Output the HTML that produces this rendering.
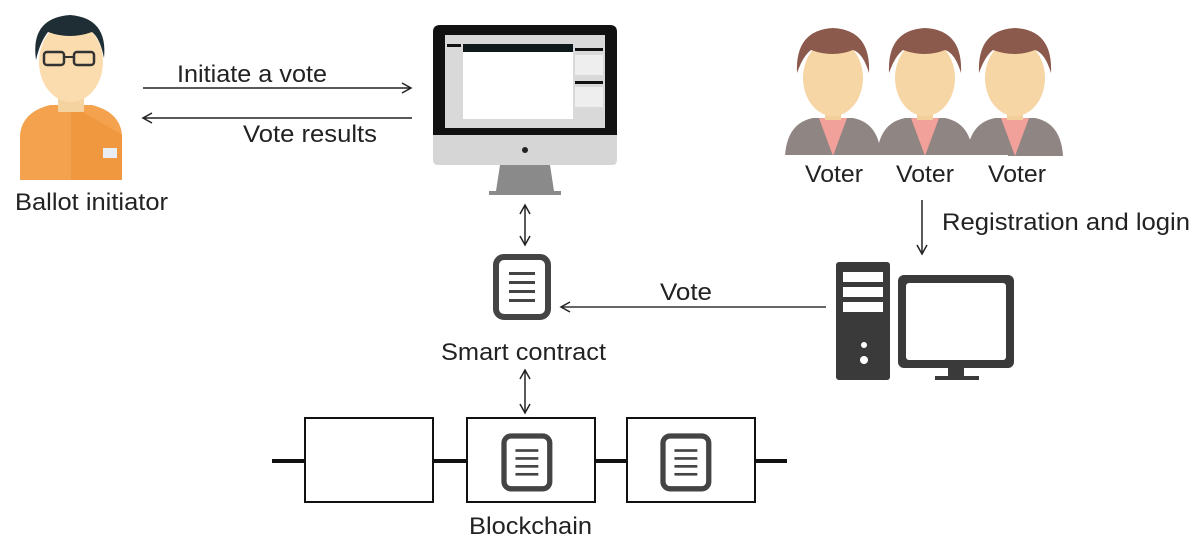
<!DOCTYPE html>
<html><head><meta charset="utf-8"><style>
html,body{margin:0;padding:0;background:#fff;}
svg{display:block;}
text{font-family:"Liberation Sans",Arial,sans-serif;fill:#222;}
</style></head><body>
<svg width="1200" height="547" viewBox="0 0 1200 547" xmlns="http://www.w3.org/2000/svg">
<defs>
<marker id="ah" markerWidth="12" markerHeight="12" refX="10" refY="6" orient="auto-start-reverse" markerUnits="userSpaceOnUse">
<path d="M1,1 L10,6 L1,11" fill="none" stroke="#222" stroke-width="1.5"/>
</marker>
<g id="voter">
<path d="M-48,128 Q-46,95 -20,90 L20,90 Q46,95 48,128 Z" fill="#8f8583"/>
<path d="M-14,90 L0,128 L14,90 Z" fill="#f2a09a"/>
<rect x="-8" y="72" width="16" height="20" fill="#f3cf9c"/>
<ellipse cx="0" cy="50" rx="30" ry="38" fill="#f7d6a6"/>
<path d="M-36,45 Q-38,2 0,0 Q38,2 36,45 Q30,25 20,22 Q0,30 -22,22 Q-30,28 -36,45 Z" fill="#8c5a4c"/>
</g>
<g id="doc">
<rect x="0" y="0" width="52" height="60" rx="8" fill="#fff" stroke="#444" stroke-width="6"/>
<rect x="13" y="15" width="26" height="3" fill="#444"/>
<rect x="13" y="24" width="26" height="3" fill="#444"/>
<rect x="13" y="33" width="26" height="3" fill="#444"/>
<rect x="13" y="42" width="26" height="3" fill="#444"/>
</g>
</defs>

<!-- Ballot initiator -->
<path d="M20,180 L20,135 Q22,112 50,105 L92,105 Q120,112 122,135 L122,180 Z" fill="#f4a24e"/>
<path d="M71,105 L122,135 L122,180 L71,180 Z" fill="#ef9840"/>
<rect x="58" y="90" width="26" height="22" fill="#f5d3a0"/>
<ellipse cx="71" cy="62" rx="32" ry="40" fill="#fbdcae"/>
<path d="M36,60 Q30,18 70,15 Q108,18 104,58 Q100,38 92,32 Q70,40 48,32 Q40,42 36,60 Z" fill="#1f2d35"/>
<rect x="44" y="52" width="20" height="13" rx="3" fill="none" stroke="#333" stroke-width="2.5"/>
<rect x="74" y="52" width="20" height="13" rx="3" fill="none" stroke="#333" stroke-width="2.5"/>
<line x1="64" y1="57" x2="74" y2="57" stroke="#333" stroke-width="2"/>
<rect x="103" y="148" width="14" height="10" fill="#e8eef3"/>
<text x="15" y="210" font-size="24" textLength="153" lengthAdjust="spacingAndGlyphs">Ballot initiator</text>

<!-- arrows initiator-monitor -->
<line x1="143" y1="88" x2="411" y2="88" stroke="#222" stroke-width="1.5" marker-end="url(#ah)"/>
<text x="177" y="82" font-size="24" textLength="150" lengthAdjust="spacingAndGlyphs">Initiate a vote</text>
<line x1="412" y1="118" x2="143" y2="118" stroke="#222" stroke-width="1.5" marker-end="url(#ah)"/>
<text x="243" y="142" font-size="24" textLength="134" lengthAdjust="spacingAndGlyphs">Vote results</text>

<!-- monitor -->
<path d="M433,135 L617,135 L617,160 Q617,165 612,165 L438,165 Q433,165 433,160 Z" fill="#d6d6d6"/>
<path d="M433,32 Q433,25 440,25 L610,25 Q617,25 617,32 L617,135 L433,135 Z" fill="#111"/>
<rect x="445" y="35" width="160" height="93" fill="#d9d9d9"/>
<rect x="463" y="44" width="110" height="75" fill="#fff"/>
<rect x="463" y="44" width="110" height="8" fill="#0e1a1a"/>
<rect x="447" y="44" width="14" height="3" fill="#111"/>
<rect x="575" y="48" width="28" height="3" fill="#111"/>
<rect x="575" y="81" width="28" height="3" fill="#111"/>
<rect x="575" y="55" width="28" height="20" fill="#eee"/>
<rect x="575" y="87" width="28" height="20" fill="#eee"/>
<circle cx="525" cy="150" r="3" fill="#222"/>
<path d="M500,165 L550,165 L554,191 L496,191 Z" fill="#8a8a8a"/>
<rect x="489" y="191" width="72" height="4" fill="#8a8a8a"/>

<!-- double arrows -->
<line x1="525" y1="205" x2="525" y2="245" stroke="#222" stroke-width="1.5" marker-start="url(#ah)" marker-end="url(#ah)"/>
<line x1="525" y1="370" x2="525" y2="413" stroke="#222" stroke-width="1.5" marker-start="url(#ah)" marker-end="url(#ah)"/>

<!-- smart contract -->
<use href="#doc" x="496" y="257"/>
<text x="441" y="360" font-size="24" textLength="165" lengthAdjust="spacingAndGlyphs">Smart contract</text>

<!-- Vote arrow -->
<line x1="826" y1="307" x2="561" y2="307" stroke="#333" stroke-width="1.5" marker-end="url(#ah)"/>
<text x="660" y="300" font-size="24" textLength="52" lengthAdjust="spacingAndGlyphs">Vote</text>

<!-- blockchain -->
<line x1="272" y1="461" x2="787" y2="461" stroke="#111" stroke-width="4"/>
<rect x="305" y="418" width="128" height="84" fill="#fff" stroke="#111" stroke-width="2"/>
<rect x="467" y="418" width="128" height="84" fill="#fff" stroke="#111" stroke-width="2"/>
<rect x="627" y="418" width="128" height="84" fill="#fff" stroke="#111" stroke-width="2"/>
<g transform="translate(504,436) scale(0.88)"><use href="#doc"/></g>
<g transform="translate(663,436) scale(0.88)"><use href="#doc"/></g>
<text x="469" y="534" font-size="24" textLength="123" lengthAdjust="spacingAndGlyphs">Blockchain</text>

<!-- voters -->
<use href="#voter" x="1015" y="28"/>
<use href="#voter" x="925" y="28"/>
<use href="#voter" x="833" y="28"/>
<rect x="780" y="155" width="228" height="3" fill="#fff"/>
<text x="805" y="182" font-size="24" textLength="58" lengthAdjust="spacingAndGlyphs">Voter</text>
<text x="896" y="182" font-size="24" textLength="58" lengthAdjust="spacingAndGlyphs">Voter</text>
<text x="988" y="182" font-size="24" textLength="58" lengthAdjust="spacingAndGlyphs">Voter</text>

<line x1="922" y1="200" x2="922" y2="254" stroke="#222" stroke-width="1.5" marker-end="url(#ah)"/>
<text x="942" y="230" font-size="24" textLength="248" lengthAdjust="spacingAndGlyphs">Registration and login</text>

<!-- computer -->
<rect x="836" y="262" width="54" height="118" rx="3" fill="#3a3a3a"/>
<rect x="843" y="272" width="40" height="10" fill="#fff"/>
<rect x="843" y="287" width="40" height="10" fill="#fff"/>
<rect x="843" y="302" width="40" height="10" fill="#fff"/>
<circle cx="864" cy="345" r="3" fill="#fff"/>
<circle cx="864" cy="360" r="4" fill="#fff"/>
<rect x="898" y="275" width="116" height="93" rx="6" fill="#3a3a3a"/>
<rect x="906" y="283" width="100" height="77" rx="3" fill="#fff"/>
<rect x="948" y="368" width="16" height="8" fill="#3a3a3a"/>
<rect x="935" y="376" width="44" height="4" fill="#3a3a3a"/>
</svg>
</body></html>
